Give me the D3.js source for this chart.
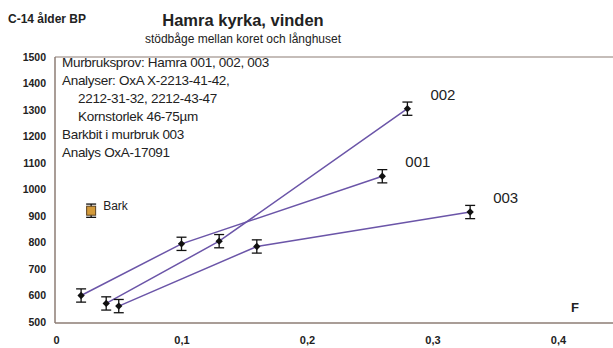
<!DOCTYPE html>
<html>
<head>
<meta charset="utf-8">
<script src="https://cdn.jsdelivr.net/npm/d3@7"></script>
<style>
  html, body { margin: 0; padding: 0; background: #fff; }
  svg { display: block; font-family: Arial, "Liberation Sans", sans-serif; }
</style>
</head>
<body>
<svg id="chart" width="613" height="348"></svg>
<script>
// Mortar samples: fraction F vs. C-14 age BP
const seriesNames = ["001", "002", "003"];
const seriesX = [
  [0.02, 0.10, 0.26],
  [0.04, 0.13, 0.28],
  [0.05, 0.16, 0.33]
];
const seriesY = [
  [600, 795, 1050],
  [570, 805, 1305],
  [560, 785, 915]
];
const errorBP = 25;

// Bark fragment found in mortar 003
const barkX = 0.028;
const barkY = 920;
const barkLabel = "Bark";

const yTicks = [500, 600, 700, 800, 900, 1000, 1100, 1200, 1300, 1400, 1500];
const xTicks = [0, 0.1, 0.2, 0.3, 0.4];
const xTickLabels = ["0", "0,1", "0,2", "0,3", "0,4"];

const infoLines = [
  { text: "Murbruksprov: Hamra 001, 002, 003", indent: false },
  { text: "Analyser: OxA X-2213-41-42,", indent: false },
  { text: "2212-31-32, 2212-43-47", indent: true },
  { text: "Kornstorlek 46-75µm", indent: true },
  { text: "Barkbit i murbruk 003", indent: false },
  { text: "Analys OxA-17091", indent: false }
];

const svg = d3.select("#chart");
const plotLeft = 55, plotTop = 57, plotBottom = 322;

const x = d3.scaleLinear().domain([0, 0.45]).range([56, 56 + 0.45 * 1255]);
const y = d3.scaleLinear().domain([500, 1500]).range([plotBottom, plotTop]);

const axisColor = "#8c7d74";

// Frame: left, top and bottom edges
svg.append("line").attr("x1", plotLeft).attr("x2", plotLeft).attr("y1", plotTop).attr("y2", plotBottom + 1)
  .attr("stroke", axisColor).attr("stroke-width", 1.5);
svg.append("line").attr("x1", plotLeft).attr("x2", 613).attr("y1", plotTop).attr("y2", plotTop)
  .attr("stroke", axisColor).attr("stroke-width", 1.2);
svg.append("line").attr("x1", plotLeft).attr("x2", 613).attr("y1", plotBottom + 1).attr("y2", plotBottom + 1)
  .attr("stroke", axisColor).attr("stroke-width", 1.5);

// Y axis labels
const yAxis = d3.axisLeft(y).tickValues(yTicks).tickSize(0).tickPadding(9).tickFormat(d3.format("d"));
const gy = svg.append("g").attr("transform", `translate(${plotLeft},0)`).call(yAxis);
gy.select(".domain").remove();
gy.selectAll("text").attr("font-size", 10.5).attr("font-weight", "bold").attr("fill", "#222")
  .attr("font-family", "Arial, 'Liberation Sans', sans-serif");

// X axis labels
const xAxis = d3.axisBottom(x).tickValues(xTicks).tickSize(0).tickPadding(13)
  .tickFormat((d, i) => xTickLabels[i]);
const gx = svg.append("g").attr("transform", `translate(0,${plotBottom + 1})`).call(xAxis);
gx.select(".domain").remove();
gx.selectAll("text").attr("font-size", 11).attr("font-weight", "bold").attr("fill", "#222")
  .attr("font-family", "Arial, 'Liberation Sans', sans-serif");

// Titles
svg.append("text").attr("x", 8).attr("y", 23).text("C-14 ålder BP")
  .attr("font-size", 12).attr("font-weight", "bold").attr("fill", "#222");
svg.append("text").attr("x", 243).attr("y", 26).attr("text-anchor", "middle")
  .text("Hamra kyrka, vinden").attr("font-size", 16.5).attr("font-weight", "bold").attr("fill", "#222");
svg.append("text").attr("x", 243).attr("y", 43).attr("text-anchor", "middle")
  .text("stödbåge mellan koret och långhuset").attr("font-size", 12).attr("fill", "#222");

// Info block
svg.append("g").selectAll("text").data(infoLines).join("text")
  .attr("x", d => d.indent ? 78 : 62)
  .attr("y", (d, i) => 67 + i * 18)
  .attr("font-size", 13.5).attr("fill", "#222")
  .attr("letter-spacing", -0.3)
  .text(d => d.text);

// Series lines
const line = d3.line().x(d => x(d[0])).y(d => y(d[1]));
const series = seriesNames.map((name, i) => ({
  name,
  points: seriesX[i].map((v, j) => [v, seriesY[i][j]])
}));

svg.append("g").selectAll("path").data(series).join("path")
  .attr("d", d => line(d.points))
  .attr("fill", "none").attr("stroke", "#6b55a8").attr("stroke-width", 1.5);

// Error bars and markers
const allPts = series.flatMap(s => s.points);
const eb = svg.append("g").attr("stroke", "#111").attr("stroke-width", 1.3);
allPts.forEach(p => {
  const cx = x(p[0]);
  eb.append("line").attr("x1", cx).attr("x2", cx).attr("y1", y(p[1] + errorBP)).attr("y2", y(p[1] - errorBP));
  eb.append("line").attr("x1", cx - 5).attr("x2", cx + 5).attr("y1", y(p[1] + errorBP)).attr("y2", y(p[1] + errorBP));
  eb.append("line").attr("x1", cx - 5).attr("x2", cx + 5).attr("y1", y(p[1] - errorBP)).attr("y2", y(p[1] - errorBP));
});

svg.append("g").selectAll("path").data(allPts).join("path")
  .attr("d", d3.symbol(d3.symbolDiamond2, 34)())
  .attr("transform", d => `translate(${x(d[0])},${y(d[1])})`)
  .attr("fill", "#111");

// Series labels next to last point
svg.append("g").selectAll("text").data(series).join("text")
  .attr("x", d => x(d.points[d.points.length - 1][0]) + 23)
  .attr("y", d => y(d.points[d.points.length - 1][1]) - 9)
  .attr("font-size", 15).attr("fill", "#222")
  .text(d => d.name);

// Bark sample
const bx = x(barkX), by = y(barkY);
svg.append("line").attr("x1", bx).attr("x2", bx).attr("y1", y(barkY + errorBP)).attr("y2", y(barkY - errorBP))
  .attr("stroke", "#111").attr("stroke-width", 1.3);
[barkY + errorBP, barkY - errorBP].forEach(v => {
  svg.append("line").attr("x1", bx - 5).attr("x2", bx + 5).attr("y1", y(v)).attr("y2", y(v))
    .attr("stroke", "#111").attr("stroke-width", 1.3);
});
svg.append("rect").attr("x", bx - 4.5).attr("y", by - 4.5).attr("width", 9).attr("height", 9)
  .attr("fill", "#d39a3a").attr("stroke", "#5a4020").attr("stroke-width", 1);
svg.append("text").attr("x", bx + 12).attr("y", by - 1).attr("font-size", 12).attr("fill", "#222").text(barkLabel);

// Axis variable
svg.append("text").attr("x", 571).attr("y", 312).attr("font-size", 13).attr("font-weight", "bold")
  .attr("fill", "#222").text("F");
</script>
</body>
</html>
